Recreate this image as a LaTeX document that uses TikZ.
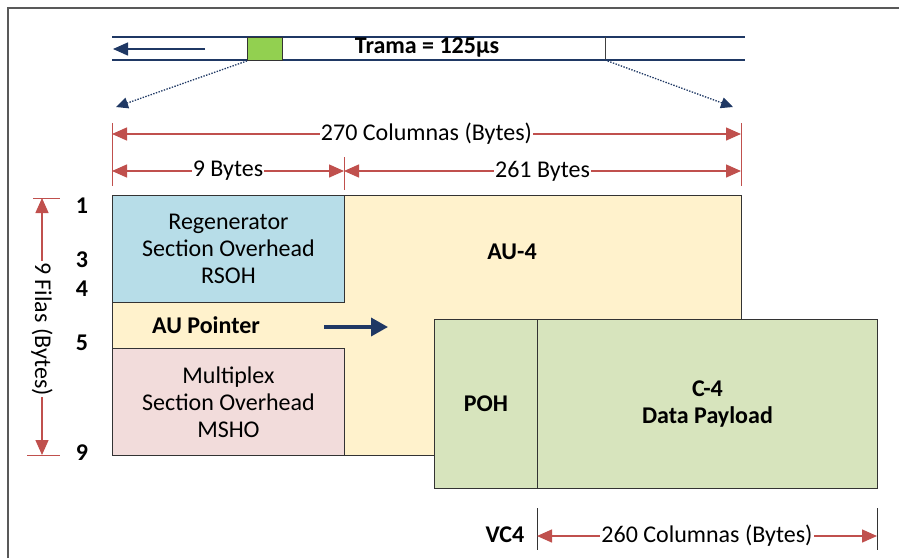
\documentclass[tikz,border=0pt]{standalone}
\usepackage{fontspec}
\setmainfont{Carlito}
\usetikzlibrary{arrows.meta}
\usetikzlibrary{positioning}

\definecolor{rsohblue}{HTML}{B7DDE8}
\definecolor{msohpink}{HTML}{F2DCDB}
\definecolor{auyellow}{HTML}{FFF2CC}
\definecolor{vcgreen}{HTML}{D7E4BD}
\definecolor{slotgreen}{HTML}{92D050}
\definecolor{dimred}{HTML}{C0504D}
\definecolor{navy}{HTML}{1F3864}

\begin{document}
\begin{tikzpicture}[x=1pt,y=-1pt,
  every node/.style={font=\fontsize{24}{27}\selectfont},
  box/.style={draw=black!80, line width=0.9pt, inner sep=0pt, anchor=north west, align=center},
  bold/.style={font=\fontsize{24}{27}\selectfont\bfseries},
  dimline/.style={dimred, line width=1.4pt, {Triangle[length=15pt,width=13pt]}-{Triangle[length=15pt,width=13pt]}},
  dimtext/.style={fill=white, text=black, inner sep=1pt},
  tickline/.style={line width=1pt},
  bandline/.style={navy, line width=1.5pt},
  zoomline/.style={navy, line width=1.3pt, dash pattern=on 1.4pt off 1.4pt, -{Triangle[length=12pt,width=11pt]}}]
  \useasboundingbox (0,0) rectangle (899,558);

  % frame border
  \draw[black!65, line width=1.6pt] (8,558) -- (8,8) -- (899,8);

  % frame band on top
  \draw[bandline] (112,37) -- (745,37);
  \draw[bandline] (112,60) -- (745,60);
  \node[draw=black!80, line width=0.9pt, fill=slotgreen, inner sep=0pt, anchor=north west,
        minimum width=35pt, minimum height=23pt] (slot) at (247,37) {};
  \draw[black!75, line width=1pt] (605,37) -- (605,60);
  \coordinate (endslot) at (605,60);
  \coordinate (runL) at (113,49);
  \coordinate (runR) at (205,49);
  \draw[navy, line width=1.5pt, -{Triangle[length=15pt,width=13pt]}] (runR) -- (runL);
  \node[bold] (trama) at (427,48) {Trama = 125µs};

  \coordinate (zoomL) at (116,107);
  \coordinate (zoomR) at (733,107);
  \draw[zoomline] (slot.south west) -- (zoomL);
  \draw[zoomline] (endslot) -- (zoomR);

  % column dimensions
  \draw[dimred, tickline] (112,123) -- (112,186);
  \draw[dimred, tickline] (741,123) -- (741,186);
  \draw[dimred, tickline] (344,157) -- (344,190);
  \coordinate (colA) at (112,134);
  \coordinate (colB) at (741,134);
  \coordinate (nineA) at (112,171);
  \coordinate (nineB) at (344,171);
  \coordinate (restB) at (741,171);
  \draw[dimline] (colA) -- node[dimtext] (cols) {270 Columnas (Bytes)} (colB);
  \draw[dimline] (nineA) -- node[dimtext] (ninebytes) {9 Bytes} (nineB);
  \draw[dimline] (nineB) -- node[dimtext] (restbytes) {261 Bytes} (restB);

  % STM-1 frame
  \node[box, fill=auyellow, minimum width=629pt, minimum height=260pt] (au4) at (112,195) {};
  \node[bold] (au4lbl) at (512,252) {AU-4};
  \node[box, fill=rsohblue, minimum width=232pt, minimum height=107pt] (rsoh) at (112,195)
    {Regenerator\\Section Overhead\\RSOH};
  \node[box, fill=msohpink, minimum width=232pt, minimum height=107pt] (msoh) at (112,348)
    {Multiplex\\Section Overhead\\MSHO};
  \node[bold] (ptr) at (206,325) {AU Pointer};
  \coordinate (ptrA) at (324,327);
  \coordinate (ptrB) at (388,327);
  \draw[navy, line width=3.5pt, -{Triangle[length=17pt,width=18pt]}] (ptrA) -- (ptrB);

  % virtual container
  \node[box, fill=vcgreen, minimum width=103pt, minimum height=169pt] (poh) at (434,319) {\bfseries POH};
  \node[box, fill=vcgreen, minimum width=340pt, minimum height=169pt] (c4) at (537,319)
    {\bfseries C-4\\\bfseries Data Payload};

  % rows
  \node[bold] (row1) at (82,206) {1};
  \node[bold] (row3) at (82,260) {3};
  \node[bold] (row4) at (82,289) {4};
  \node[bold] (row5) at (82,343) {5};
  \node[bold] (row9) at (82,453) {9};
  \draw[dimred, tickline] (33,198) -- (60,198);
  \draw[dimred, tickline] (27,455) -- (60,455);
  \coordinate (filA) at (42,198);
  \coordinate (filB) at (42,455);
  \draw[dimline] (filA) -- node[dimtext, rotate=-90, pos=0.51] (filas) {9 Filas (Bytes)} (filB);

  % VC-4 columns
  \node[bold] (vc4) at (505,535) {VC4};
  \draw[black!80, tickline] (537,508) -- (537,550);
  \draw[black!80, tickline] (877,508) -- (877,550);
  \coordinate (vcA) at (537,536);
  \coordinate (vcB) at (877,536);
  \draw[dimline] (vcA) -- node[dimtext] (vccols) {260 Columnas (Bytes)} (vcB);
\end{tikzpicture}
\end{document}
